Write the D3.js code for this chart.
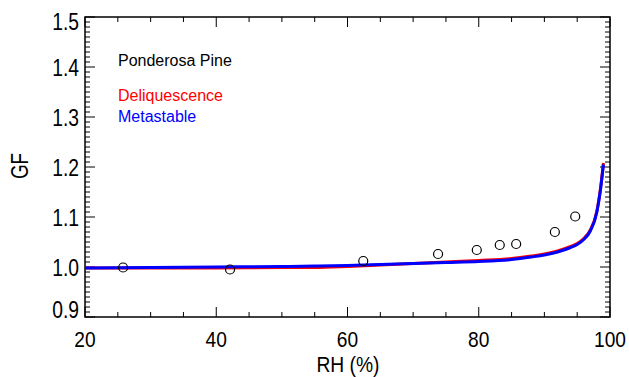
<!DOCTYPE html>
<html><head><meta charset="utf-8">
<script src="https://cdn.jsdelivr.net/npm/d3@7"></script>
<style>
body{margin:0;background:#fff;}
text{font-family:"Liberation Sans",Arial,sans-serif;}
</style></head>
<body><svg id="c" width="629" height="377"></svg>
<script>
const rh = [20, 30, 40, 50, 55, 60, 65, 70, 75, 80, 85, 88, 90, 92, 94, 95, 96, 97, 98, 98.5, 99];
const metastable = [0.998, 0.999, 1.000, 1.001, 1.002, 1.003, 1.005, 1.007, 1.009, 1.011, 1.015, 1.020, 1.024, 1.030, 1.039, 1.045, 1.055, 1.072, 1.110, 1.150, 1.205];
const deliquescence = [0.998, 0.998, 0.998, 0.999, 0.999, 1.001, 1.004, 1.007, 1.010, 1.013, 1.017, 1.022, 1.026, 1.032, 1.041, 1.047, 1.057, 1.074, 1.112, 1.152, 1.208];
const obsRH = [25.8, 42.1, 62.4, 73.8, 79.7, 83.2, 85.7, 91.6, 94.7];
const obsGF = [0.999, 0.995, 1.012, 1.026, 1.034, 1.044, 1.046, 1.070, 1.101];
const xTicks = [20, 40, 60, 80, 100];
const yTicks = [0.9, 1.0, 1.1, 1.2, 1.3, 1.4, 1.5];

const svg = d3.select("#c");
const L = 85, R = 610, T = 17, B = 317;
const x = d3.scaleLinear().domain([20, 100]).range([L, R]);
const y = d3.scaleLinear().domain([0.9, 1.5]).range([B, T]);

// frame
svg.append("rect").attr("x", L).attr("y", T).attr("width", R - L).attr("height", B - T)
  .attr("fill", "none").attr("stroke", "#000").attr("stroke-width", 1.5);

const g = svg.append("g");
d3.range(20, 100.01, 5).forEach(v => {
  const len = v % 20 === 0 ? 10 : 5;
  g.append("line").attr("x1", x(v)).attr("x2", x(v)).attr("y1", B).attr("y2", B - len).attr("stroke", "#000");
  g.append("line").attr("x1", x(v)).attr("x2", x(v)).attr("y1", T).attr("y2", T + len).attr("stroke", "#000");
});
d3.range(0, 61).forEach(i => {
  const v = 0.9 + i * 0.01;
  const len = i % 10 === 0 ? 10 : 5;
  g.append("line").attr("x1", L).attr("x2", L + len).attr("y1", y(v)).attr("y2", y(v)).attr("stroke", "#000");
  g.append("line").attr("x1", R).attr("x2", R - len).attr("y1", y(v)).attr("y2", y(v)).attr("stroke", "#000");
});

// tick labels (horizontally condensed)
svg.selectAll(".xl").data(xTicks).enter().append("text")
  .attr("transform", d => `translate(${x(d)},347) scale(0.87,1)`).attr("text-anchor", "middle")
  .attr("font-size", 22).attr("fill", "#000").text(d => d);
svg.selectAll(".yl").data(yTicks).enter().append("text")
  .attr("transform", d => `translate(79,${d === 1.5 ? y(d) + 13 : (d === 0.9 ? y(d) + 1 : y(d) + 8.5)}) scale(0.84,1)`)
  .attr("text-anchor", "end").attr("font-size", 23).attr("fill", "#000").text(d => d.toFixed(1));

// axis titles
svg.append("text").attr("transform", "translate(348,372) scale(0.875,1)").attr("text-anchor", "middle")
  .attr("font-size", 22).text("RH (%)");
svg.append("text").attr("transform", "translate(28,166) rotate(-90) scale(0.82,1)")
  .attr("text-anchor", "middle").attr("font-size", 23).text("GF");

// lines
const line = d3.line().x((d, i) => x(rh[i])).y(d => y(d)).curve(d3.curveMonotoneX);
svg.append("path").datum(deliquescence).attr("d", line).attr("fill", "none")
  .attr("stroke", "#ff0000").attr("stroke-width", 3);
svg.append("path").datum(metastable).attr("d", line).attr("fill", "none")
  .attr("stroke", "#0000ff").attr("stroke-width", 3);

// observations
svg.selectAll(".pt").data(obsRH).enter().append("circle")
  .attr("cx", d => x(d)).attr("cy", (d, i) => y(obsGF[i])).attr("r", 4.5)
  .attr("fill", "none").attr("stroke", "#000").attr("stroke-width", 1.2);

// annotations
const ann = [["Ponderosa Pine", "#000", 66], ["Deliquescence", "#ff0000", 101], ["Metastable", "#0000ff", 122]];
ann.forEach(a => svg.append("text").attr("x", 118).attr("y", a[2])
  .attr("font-size", 16).attr("fill", a[1]).text(a[0]));
</script></body></html>
